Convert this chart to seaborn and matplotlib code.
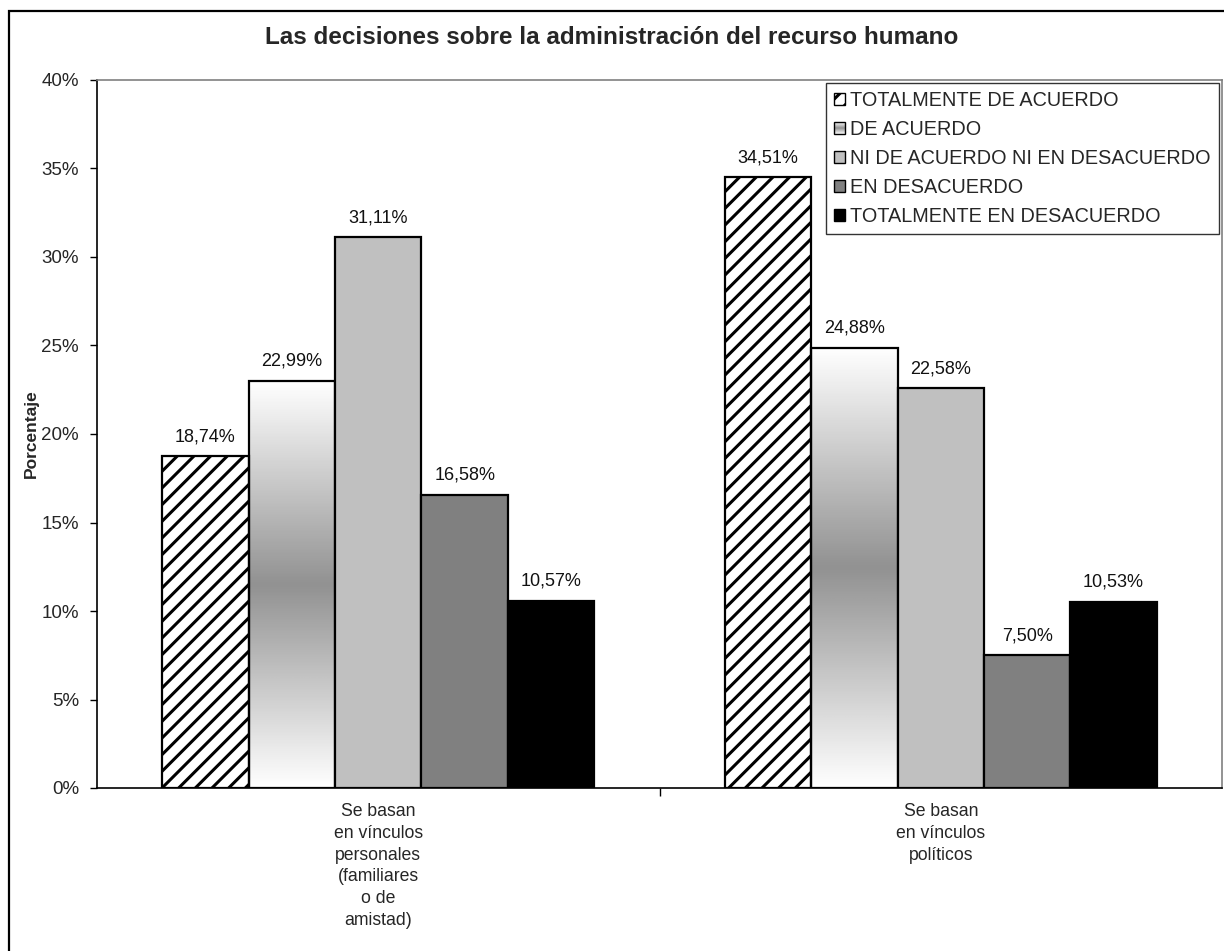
import numpy as np
import pandas as pd
import matplotlib
matplotlib.use("Agg")
import matplotlib.pyplot as plt
import seaborn as sns
from matplotlib.patches import Patch, Rectangle
from matplotlib.legend_handler import HandlerBase

# --- data -------------------------------------------------------------
categories = [
    "Se basan\nen vínculos\npersonales\n(familiares\no de\namistad)",
    "Se basan\nen vínculos\npolíticos",
]
responses = [
    "TOTALMENTE DE ACUERDO",
    "DE ACUERDO",
    "NI DE ACUERDO NI EN DESACUERDO",
    "EN DESACUERDO",
    "TOTALMENTE EN DESACUERDO",
]
personales = [18.74, 22.99, 31.11, 16.58, 10.57]
politicos = [34.51, 24.88, 22.58, 7.50, 10.53]
y_ticks = [0, 5, 10, 15, 20, 25, 30, 35, 40]
title = "Las decisiones sobre la administración del recurso humano"
y_label = "Porcentaje"

df = pd.DataFrame({
    "categoria": [categories[0]] * 5 + [categories[1]] * 5,
    "respuesta": responses * 2,
    "valor": personales + politicos,
})

# --- style ------------------------------------------------------------
sns.set_theme(style="white")
plt.rcParams["font.family"] = ["Liberation Sans", "DejaVu Sans"]
plt.rcParams["hatch.linewidth"] = 2.2
plt.rcParams["hatch.color"] = "black"

palette = ["#ffffff", "#ffffff", "#c0c0c0", "#808080", "#000000"]


def shade(t):
    """Grey level of the centre-dark vertical gradient, t in [0, 1]."""
    return 1.0 - 0.43 * (1.0 - abs(2.0 * t - 1.0))


fig = plt.figure(figsize=(12.24, 9.51), dpi=100)
ax = fig.add_axes([97 / 1224, 1 - 788 / 951, (1222 - 97) / 1224, (788 - 80) / 951])

sns.barplot(
    data=df, x="categoria", y="valor", hue="respuesta",
    hue_order=responses, order=categories, palette=palette,
    saturation=1, width=0.768, edgecolor="black", linewidth=1.6,
    legend=False, ax=ax, zorder=2,
)

# hatched series
for bar in ax.containers[0]:
    bar.set_hatch("//")
    bar.set_facecolor("white")

# gradient series
grad = np.array([[shade(t)] for t in np.linspace(1, 0, 256)])
for bar in ax.containers[1]:
    x0, y0 = bar.get_x(), bar.get_y()
    w, h = bar.get_width(), bar.get_height()
    bar.set_facecolor("none")
    ax.imshow(grad, extent=[x0, x0 + w, y0, y0 + h], aspect="auto",
              cmap="gray", vmin=0, vmax=1, zorder=1.5, interpolation="bicubic")

# value labels
for cont in ax.containers:
    ax.bar_label(cont, labels=[f"{b.get_height():.2f}%".replace(".", ",") for b in cont],
                 padding=8, fontsize=13, color="#111111")

# axes
ax.set_xlim(-0.5, 1.5)
ax.set_ylim(0, 40)
ax.set_yticks(y_ticks)
ax.set_yticklabels([f"{v}%" for v in y_ticks])
ax.set_xticks([0, 1])
ax.set_xticklabels(categories, linespacing=1.36)
ax.set_xticks([0.5], minor=True)
ax.tick_params(axis="x", which="major", length=0, pad=11, labelsize=12.7)
ax.tick_params(axis="x", which="minor", length=6, width=1, direction="out", bottom=True, color="black")
ax.tick_params(axis="y", which="major", length=5, width=1, direction="out", left=True,
               pad=8, labelsize=13.5, color="black")
ax.set_xlabel("")
ax.set_ylabel(y_label, fontsize=12.5, fontweight="bold")
ax.yaxis.set_label_coords((39 - 97) / 1125, 0.5)

for side in ["left", "bottom"]:
    ax.spines[side].set_color("black")
    ax.spines[side].set_linewidth(1.2)
for side in ["top", "right"]:
    ax.spines[side].set_visible(True)
    ax.spines[side].set_color("#808080")
    ax.spines[side].set_linewidth(1.2)


# legend
class GradientHandler(HandlerBase):
    def create_artists(self, legend, orig_handle, xdescent, ydescent,
                       width, height, fontsize, trans):
        n = 12
        arts = []
        for i in range(n):
            t = (i + 0.5) / n
            arts.append(Rectangle((-xdescent, -ydescent + i * height / n), width,
                                  height / n, facecolor=str(shade(t)),
                                  edgecolor="none", transform=trans))
        arts.append(Rectangle((-xdescent, -ydescent), width, height,
                              facecolor="none", edgecolor="black", lw=1,
                              transform=trans))
        return arts


handles = [
    Patch(facecolor="white", edgecolor="black", hatch="//", lw=1),
    Patch(facecolor="#b0b0b0", edgecolor="black", lw=1),
    Patch(facecolor=palette[2], edgecolor="black", lw=1),
    Patch(facecolor=palette[3], edgecolor="black", lw=1),
    Patch(facecolor=palette[4], edgecolor="black", lw=1),
]
leg = fig.legend(
    handles, responses, loc="upper left",
    bbox_to_anchor=(826 / 1224, 1 - 83 / 951), bbox_transform=fig.transFigure,
    fontsize=14.3, frameon=True, fancybox=False, edgecolor="black",
    handlelength=0.55, handleheight=0.55, handletextpad=0.25, labelspacing=0.5,
    borderpad=0.42, borderaxespad=0,
    handler_map={handles[1]: GradientHandler()},
)
leg.get_frame().set_linewidth(1.0)

# title and outer chart border
fig.text(0.5, 1 - 38 / 951, title, ha="center", va="center",
         fontsize=17.5, fontweight="bold")
fig.patches.append(Rectangle((9 / 1224, -0.1), 1.2, 1.1 - 11 / 951,
                             transform=fig.transFigure, fill=False,
                             edgecolor="black", lw=1.6, zorder=0))

fig.savefig("out.png", dpi=100)
